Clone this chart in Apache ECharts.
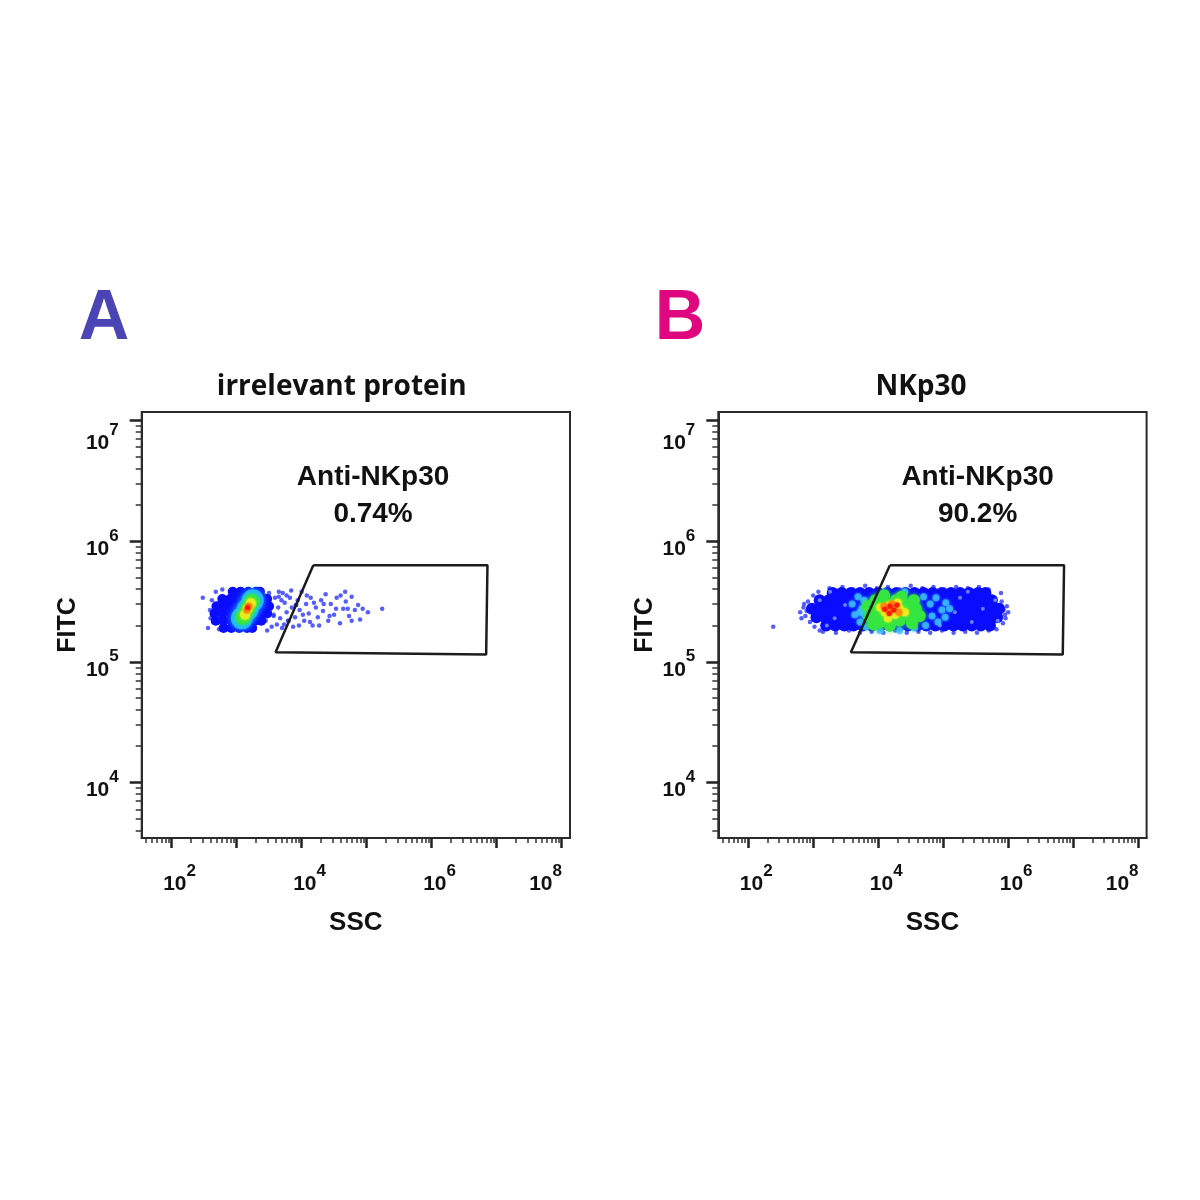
<!DOCTYPE html>
<html>
<head>
<meta charset="utf-8">
<title>Anti-NKp30 flow cytometry</title>
<script src="https://cdn.jsdelivr.net/npm/echarts@6.0.0/dist/echarts.min.js"></script>
<style>
html, body { margin: 0; padding: 0; background: #fff; }
#container { width: 1200px; height: 1200px; }
</style>
</head>
<body>
<div id="container"></div>
<script>
// every value is log10 of the channel: x = SSC, y = FITC
var xRange = [1.54, 8.13];
var yRange = [3.54, 7.07];
var xMajor = [2, 3, 4, 5, 6, 7, 8];
var xTickLabels = [2, 4, 6, 8];
var yMajor = [4, 5, 6, 7];
var yTickLabels = [4, 5, 6, 7];

var panelTitles = ['irrelevant protein', 'NKp30'];
var panelLetters = ['A', 'B'];
var gateName = 'Anti-NKp30';
var gatePercents = ['0.74%', '90.2%'];
var gateLabelPos = [[5.10, 6.375], [5.53, 6.375]];

var gateA = [[4.18, 5.80], [6.86, 5.80], [6.84, 5.06], [3.60, 5.08], [4.18, 5.80]];
var gateB = [[4.18, 5.80], [6.86, 5.80], [6.84, 5.06], [3.58, 5.08], [4.18, 5.80]];

// panel A: irrelevant protein
var sparseA = [
  [2.48, 5.53], [2.56, 5.28], [2.59, 5.43], [2.62, 5.51], [2.64, 5.33], [2.68, 5.58], [2.73, 5.27], [2.78, 5.60], [2.60, 5.36],
  [3.44, 5.55], [3.48, 5.49], [3.51, 5.41], [3.45, 5.34], [3.54, 5.29], [3.59, 5.53], [3.64, 5.45], [3.67, 5.36],
  [3.71, 5.57], [3.74, 5.49], [3.77, 5.41], [3.73, 5.31], [3.82, 5.53], [3.85, 5.45], [3.90, 5.37], [3.87, 5.29],
  [3.94, 5.51], [3.97, 5.43], [4.00, 5.58], [4.04, 5.34], [4.07, 5.48], [4.11, 5.40], [4.14, 5.53], [4.17, 5.30],
  [4.22, 5.45], [4.25, 5.37], [4.30, 5.51], [4.33, 5.42], [4.37, 5.56], [4.41, 5.34], [4.45, 5.48], [4.50, 5.39],
  [4.54, 5.53], [4.59, 5.32], [4.64, 5.44], [4.68, 5.50], [4.73, 5.38], [4.77, 5.54], [4.82, 5.43], [4.87, 5.47],
  [4.94, 5.44], [5.02, 5.41], [5.24, 5.44], [4.90, 5.35], [4.67, 5.58],
  [3.50, 5.57], [3.57, 5.38], [3.62, 5.31], [3.69, 5.51], [3.80, 5.34], [3.92, 5.47], [3.65, 5.58], [3.77, 5.55],
  [3.39, 5.59], [3.47, 5.26], [3.57, 5.39], [3.65, 5.54], [3.70, 5.28], [3.79, 5.34], [3.84, 5.59], [3.91, 5.47],
  [3.96, 5.30], [4.02, 5.39], [4.08, 5.55], [4.13, 5.33], [4.19, 5.49], [4.27, 5.30], [4.34, 5.48], [4.43, 5.38],
  [4.53, 5.44], [4.60, 5.55], [4.71, 5.44], [4.77, 5.34]
];
var bodyA = [
  [2.80, 5.28], [2.92, 5.28], [3.04, 5.28], [3.16, 5.28], [3.24, 5.28],
  [2.68, 5.34], [2.80, 5.34], [2.92, 5.34], [3.04, 5.34], [3.16, 5.34], [3.28, 5.34], [3.38, 5.34],
  [2.66, 5.40], [2.78, 5.40], [2.90, 5.40], [3.02, 5.40], [3.14, 5.40], [3.26, 5.40], [3.38, 5.40], [3.47, 5.40],
  [2.69, 5.46], [2.81, 5.46], [2.93, 5.46], [3.05, 5.46], [3.17, 5.46], [3.29, 5.46], [3.41, 5.46], [3.50, 5.46],
  [2.78, 5.52], [2.90, 5.52], [3.02, 5.52], [3.14, 5.52], [3.26, 5.52], [3.38, 5.52], [3.47, 5.52],
  [2.94, 5.58], [3.06, 5.58], [3.18, 5.58], [3.30, 5.58], [3.36, 5.58]
];
var lightA = [];
var cyanBaseA = [[3.08, 5.36], [3.17, 5.435], [3.25, 5.51]];
var cyanA = [];
var greenA = [[3.10, 5.37], [3.17, 5.435], [3.235, 5.50]];
var yellowA = [[3.13, 5.39], [3.17, 5.44], [3.22, 5.485]];
var orangeA = [[3.16, 5.43], [3.19, 5.46]];
var redA = [[3.17, 5.45]];

// panel B: NKp30
var sparseB = [
  [2.385, 5.29], [2.82, 5.36],
  [2.85, 5.45], [2.88, 5.38], [2.92, 5.50], [2.95, 5.33], [2.90, 5.42], [3.00, 5.55], [3.02, 5.29], [2.86, 5.48], [3.08, 5.58], [3.10, 5.26], [2.80, 5.41],
  [3.25, 5.61], [3.45, 5.62], [3.62, 5.60], [3.80, 5.63], [3.98, 5.61], [4.15, 5.62], [4.33, 5.60], [4.50, 5.63],
  [4.68, 5.61], [4.85, 5.62], [5.02, 5.60], [5.20, 5.62], [5.38, 5.61], [5.55, 5.62], [5.70, 5.60],
  [3.15, 5.25], [3.35, 5.24], [3.55, 5.26], [3.72, 5.24], [3.90, 5.25], [4.08, 5.24], [4.26, 5.26], [4.44, 5.24],
  [4.62, 5.25], [4.80, 5.24], [4.98, 5.26], [5.16, 5.24], [5.34, 5.25], [5.52, 5.24], [5.70, 5.26], [5.82, 5.27],
  [5.90, 5.50], [5.93, 5.43], [5.96, 5.36], [5.92, 5.32], [5.98, 5.46], [5.89, 5.57], [5.95, 5.39], [6.00, 5.41]
];
var bodyB = [
  [3.30, 5.57], [3.44, 5.57], [3.58, 5.57], [3.72, 5.57], [3.86, 5.57], [4.00, 5.57], [4.14, 5.57], [4.28, 5.57], [4.42, 5.57],
  [4.56, 5.57], [4.70, 5.57], [4.84, 5.57], [4.98, 5.57], [5.12, 5.57], [5.26, 5.57], [5.40, 5.57], [5.54, 5.57], [5.65, 5.57],
  [3.10, 5.51], [3.24, 5.51], [3.38, 5.51], [3.52, 5.51], [3.66, 5.51], [3.80, 5.51], [3.94, 5.51], [4.08, 5.51], [4.22, 5.51], [4.36, 5.51],
  [4.50, 5.51], [4.64, 5.51], [4.78, 5.51], [4.92, 5.51], [5.06, 5.51], [5.20, 5.51], [5.34, 5.51], [5.48, 5.51], [5.62, 5.51], [5.75, 5.51],
  [2.98, 5.44], [3.12, 5.44], [3.26, 5.44], [3.40, 5.44], [3.54, 5.44], [3.68, 5.44], [3.82, 5.44], [3.96, 5.44], [4.10, 5.44], [4.24, 5.44], [4.38, 5.44],
  [4.52, 5.44], [4.66, 5.44], [4.80, 5.44], [4.94, 5.44], [5.08, 5.44], [5.22, 5.44], [5.36, 5.44], [5.50, 5.44], [5.64, 5.44], [5.78, 5.44], [5.86, 5.44],
  [3.05, 5.37], [3.19, 5.37], [3.33, 5.37], [3.47, 5.37], [3.61, 5.37], [3.75, 5.37], [3.89, 5.37], [4.03, 5.37], [4.17, 5.37], [4.31, 5.37], [4.45, 5.37],
  [4.59, 5.37], [4.73, 5.37], [4.87, 5.37], [5.01, 5.37], [5.15, 5.37], [5.29, 5.37], [5.43, 5.37], [5.57, 5.37], [5.71, 5.37], [5.83, 5.37],
  [3.20, 5.30], [3.34, 5.30], [3.48, 5.30], [3.62, 5.30], [3.76, 5.30], [3.90, 5.30], [4.04, 5.30], [4.18, 5.30], [4.32, 5.30], [4.46, 5.30],
  [4.60, 5.30], [4.74, 5.30], [4.88, 5.30], [5.02, 5.30], [5.16, 5.30], [5.30, 5.30], [5.44, 5.30], [5.58, 5.30], [5.72, 5.30]
];
var lightB = [
  [3.10, 5.51], [3.33, 5.36], [3.49, 5.47], [5.26, 5.53], [5.44, 5.33], [5.61, 5.44], [5.80, 5.51],
  [5.18, 5.41], [4.95, 5.30], [3.21, 5.30], [5.84, 5.34], [5.38, 5.58], [3.26, 5.58]
];
var cyanBaseB = [[3.87, 5.42], [4.18, 5.42], [4.49, 5.42]];
var cyanB = [
  [3.60, 5.48], [3.64, 5.39], [3.69, 5.54], [3.72, 5.33], [3.75, 5.44], [3.78, 5.51], [3.81, 5.29], [4.80, 5.48],
  [4.83, 5.38], [4.89, 5.53], [4.92, 5.33], [4.98, 5.43], [5.04, 5.49], [4.73, 5.30], [4.70, 5.54], [4.03, 5.26],
  [4.33, 5.26], [4.56, 5.28], [4.10, 5.57], [4.41, 5.58], [5.03, 5.37], [5.10, 5.44], [3.72, 5.41]
];
var greenB = [
  [3.84, 5.46], [3.87, 5.37], [3.96, 5.51], [3.99, 5.42], [4.03, 5.33], [4.12, 5.48], [4.15, 5.39], [4.18, 5.30],
  [4.27, 5.51], [4.30, 5.43], [4.33, 5.34], [4.43, 5.47], [4.46, 5.39], [4.52, 5.32], [4.58, 5.44], [4.64, 5.38],
  [4.09, 5.55], [4.36, 5.54], [3.93, 5.31], [4.55, 5.51]
];
var yellowB = [[4.03, 5.45], [4.10, 5.41], [4.18, 5.47], [4.26, 5.39], [4.33, 5.44], [4.41, 5.41], [4.15, 5.36], [4.30, 5.49]];
var orangeB = [[4.09, 5.46], [4.17, 5.42], [4.24, 5.45], [4.32, 5.41], [4.21, 5.48]];
var redB = [[4.10, 5.435], [4.18, 5.46], [4.24, 5.43], [4.29, 5.47], [4.17, 5.40]];

var panels = [
  {left: 141.7, sparse: sparseA, body: bodyA, light: lightA, cyanBase: cyanBaseA, cyan: cyanA, green: greenA, yellow: yellowA, orange: orangeA, red: redA, gate: gateA,
   sparseSize: 4.5, bodySize: 10, cyanBaseSize: 22, greenSize: 15, yellowSize: 10, orangeSize: 7, redSize: 5},
  {left: 718.3, sparse: sparseB, body: bodyB, light: lightB, cyanBase: cyanBaseB, cyan: cyanB, green: greenB, yellow: yellowB, orange: orangeB, red: redB, gate: gateB,
   sparseSize: 4.5, bodySize: 12, cyanBaseSize: 20, greenSize: 12, yellowSize: 8, orangeSize: 7, redSize: 5}
];

var font = 'Liberation Sans, Arial, sans-serif';

function minorTicks(lo, hi) {
  var out = [];
  for (var n = Math.floor(lo); n <= Math.ceil(hi); n++) {
    for (var k = 2; k <= 9; k++) {
      var v = n + Math.log10(k);
      if (v > lo && v < hi) out.push(+v.toFixed(4));
    }
  }
  return out;
}

// "10" sits at the bottom of a tall line, the exponent hangs from its top
var powRich = {
  b: {fontFamily: font, fontWeight: 'bold', fontSize: 21, lineHeight: 32, verticalAlign: 'bottom', color: '#111'},
  s: {fontFamily: font, fontWeight: 'bold', fontSize: 17, lineHeight: 32, verticalAlign: 'top', color: '#111'},
  g: {fontSize: 1, width: 48},
  t5: {fontSize: 1, lineHeight: 5},
  t34: {fontSize: 1, lineHeight: 34}
};
// the outermost labels are pulled inside the frame, as FlowJo does
function xPowLabel(v) { return '{b|10}{s|' + v + '}' + (v === 8 ? '{g| }' : ''); }
function yPowLabel(v) { return (v === 7 ? '{t34| }' : '{t5| }') + '\n{b|10}{s|' + v + '}'; }

var grids = [], xAxes = [], yAxes = [], series = [], gateSeries = [];

panels.forEach(function (p, i) {
  grids.push({left: p.left, top: 412, width: 428.3, height: 426, show: true, borderColor: '#2b2b2b', borderWidth: 2, backgroundColor: '#fff'});

  xAxes.push({
    type: 'value', gridIndex: i, min: xRange[0], max: xRange[1], position: 'bottom',
    name: 'SSC', nameLocation: 'middle', nameGap: 72,
    nameTextStyle: {fontFamily: font, fontWeight: 'bold', fontSize: 26, color: '#111'},
    splitLine: {show: false},
    axisLine: {show: true, onZero: false, lineStyle: {color: '#2b2b2b', width: 2}},
    axisTick: {show: true, customValues: xMajor, length: 10, lineStyle: {color: '#222', width: 2.5}},
    axisLabel: {customValues: xTickLabels, formatter: xPowLabel, rich: powRich, margin: 25, padding: [0, 0, 0, 16]}
  });
  xAxes.push({
    type: 'value', gridIndex: i, min: xRange[0], max: xRange[1], position: 'bottom',
    splitLine: {show: false}, axisLine: {show: false, onZero: false}, axisLabel: {show: false},
    axisTick: {show: true, customValues: minorTicks(xRange[0], xRange[1]), length: 5, lineStyle: {color: '#333', width: 1.5}}
  });

  yAxes.push({
    type: 'value', gridIndex: i, min: yRange[0], max: yRange[1], position: 'left',
    name: 'FITC', nameLocation: 'middle', nameGap: 61, nameRotate: 90,
    nameTextStyle: {fontFamily: font, fontWeight: 'bold', fontSize: 25, color: '#111'},
    splitLine: {show: false},
    axisLine: {show: true, onZero: false, lineStyle: {color: '#2b2b2b', width: 2}},
    axisTick: {show: true, customValues: yMajor, length: 12, lineStyle: {color: '#222', width: 2.5}},
    axisLabel: {customValues: yTickLabels, formatter: yPowLabel, rich: powRich, margin: 23, verticalAlign: 'middle'}
  });
  yAxes.push({
    type: 'value', gridIndex: i, min: yRange[0], max: yRange[1], position: 'left',
    splitLine: {show: false}, axisLine: {show: false, onZero: false}, axisLabel: {show: false},
    axisTick: {show: true, customValues: minorTicks(yRange[0], yRange[1]), length: 6, lineStyle: {color: '#333', width: 1.5}}
  });

  var xi = i * 2, yi = i * 2;
  function dots(data, size, color, opacity, blur) {
    series.push({
      type: 'scatter', xAxisIndex: xi, yAxisIndex: yi, data: data, symbolSize: size, silent: true,
      itemStyle: {color: color, opacity: opacity, shadowBlur: blur || 0, shadowColor: color}
    });
  }
  dots(p.sparse, p.sparseSize, '#2a36ff', 0.8);
  dots(p.body, p.bodySize, '#0a0cff', 1);
  dots(p.light, 4, '#6f8dff', 0.9);
  dots(p.cyanBase, p.cyanBaseSize, '#22c4ff', 0.85, 6);
  dots(p.cyan, 7, '#3cc0ff', 0.75, 3);
  dots(p.green, p.greenSize, '#36e640', 1, 4);
  dots(p.yellow, p.yellowSize, '#e6ee1e', 1, 3);
  dots(p.orange, p.orangeSize, '#ff8a12', 1, 2);
  dots(p.red, p.redSize, '#ff1a0a', 1, 2);

  gateSeries.push(series.length);
  series.push({
    type: 'line', xAxisIndex: xi, yAxisIndex: yi, data: p.gate, showSymbol: false, symbol: 'none', silent: true,
    lineStyle: {color: '#1c1c1c', width: 2.5}, z: 10
  });
});

var chart = echarts.init(document.getElementById('container'));
chart.setOption({
  backgroundColor: '#fff',
  animation: false,
  grid: grids,
  xAxis: xAxes,
  yAxis: yAxes,
  series: series
});

var texts = [
  {type: 'text', x: 104, y: 320, style: {text: panelLetters[0], font: 'bold 70px ' + font, fill: '#4a44b5', align: 'center', verticalAlign: 'middle'}},
  {type: 'text', x: 680, y: 320, style: {text: panelLetters[1], font: 'bold 70px ' + font, fill: '#e0067f', align: 'center', verticalAlign: 'middle'}},
  {type: 'text', x: 341.7, y: 387, style: {text: panelTitles[0], font: 'bold 28px "Open Sans", sans-serif', fill: '#111', align: 'center', verticalAlign: 'middle'}},
  {type: 'text', x: 921, y: 387, style: {text: panelTitles[1], font: 'bold 28px "Open Sans", sans-serif', fill: '#111', align: 'center', verticalAlign: 'middle'}}
];
// gate annotation anchored at a data position of each panel
gateLabelPos.forEach(function (pos, i) {
  var pt = chart.convertToPixel({seriesIndex: gateSeries[i]}, pos);
  texts.push({type: 'text', x: pt[0], y: pt[1], z: 20, style: {
    text: gateName + '\n' + gatePercents[i], font: 'bold 28px ' + font, lineHeight: 37,
    fill: '#111', align: 'center', verticalAlign: 'middle'}});
});
chart.setOption({graphic: texts});
</script>
</body>
</html>
